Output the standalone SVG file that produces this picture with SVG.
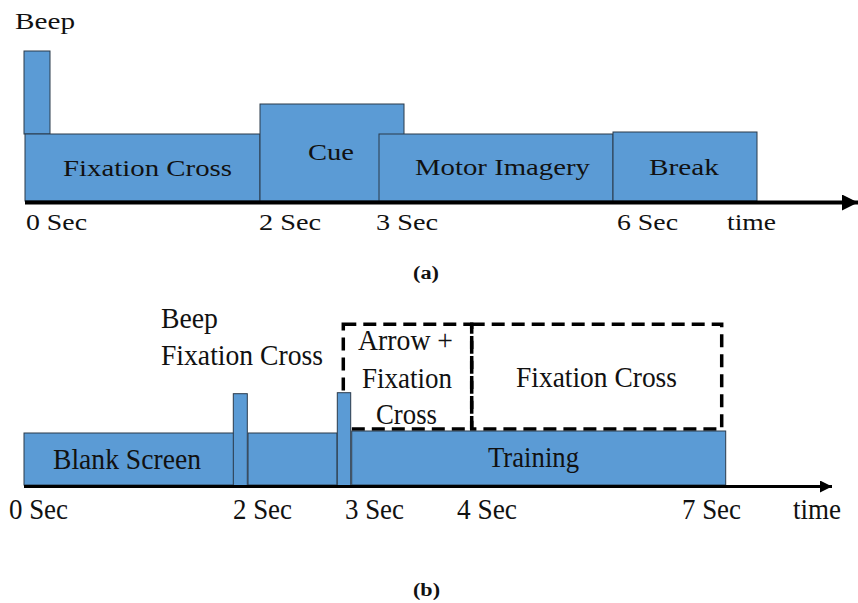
<svg xmlns="http://www.w3.org/2000/svg" width="858" height="603" viewBox="0 0 858 603">
<style>
.bar{fill:#5B9BD5;stroke:#2b3a4a;stroke-width:1}
.t{font-family:"Liberation Serif","Times New Roman",serif;fill:#111}
.a{font-size:22.5px}
.ai{font-size:23.5px}
.b{font-size:29px}
.cap{font-size:18px;font-weight:bold}
.axis{stroke:#000;fill:none}
.dash{fill:none;stroke:#000;stroke-width:3.5;stroke-dasharray:13 7}
</style>
<defs>
<marker id="arr" viewBox="0 0 10 10" refX="10" refY="5" markerWidth="4" markerHeight="4" markerUnits="strokeWidth" orient="auto">
<path d="M0,0 L10,5 L0,10 z" fill="#000"/>
</marker>
</defs>
<rect width="858" height="603" fill="#fff"/>

<!-- Part (a) -->
<g id="a-beep"><rect class="bar" x="24" y="51" width="26" height="83"/><text class="t ai" x="15" y="29" textLength="60" lengthAdjust="spacingAndGlyphs">Beep</text></g>
<g id="a-fixation"><rect class="bar" x="25" y="134" width="235" height="67"/><text class="t ai" x="63" y="176" textLength="169" lengthAdjust="spacingAndGlyphs">Fixation Cross</text></g>
<g id="a-cue"><rect class="bar" x="260" y="104" width="144" height="97"/><text class="t ai" x="308" y="160" textLength="46" lengthAdjust="spacingAndGlyphs">Cue</text></g>
<g id="a-motor"><rect class="bar" x="379" y="134" width="234" height="67"/><text class="t ai" x="415" y="175" textLength="175" lengthAdjust="spacingAndGlyphs">Motor Imagery</text></g>
<g id="a-break"><rect class="bar" x="613" y="132" width="144" height="69"/><text class="t ai" x="649" y="175" textLength="70" lengthAdjust="spacingAndGlyphs">Break</text></g>
<g id="a-connectors"><line class="axis" x1="25" y1="202.5" x2="858" y2="202.5" stroke-width="4" marker-end="url(#arr)"/></g>
<g id="a-labels">
<text class="t a" x="26" y="230" textLength="61" lengthAdjust="spacingAndGlyphs">0 Sec</text>
<text class="t a" x="259" y="230" textLength="62" lengthAdjust="spacingAndGlyphs">2 Sec</text>
<text class="t a" x="376" y="230" textLength="62" lengthAdjust="spacingAndGlyphs">3 Sec</text>
<text class="t a" x="617" y="230" textLength="61" lengthAdjust="spacingAndGlyphs">6 Sec</text>
<text class="t a" x="727" y="230" textLength="49" lengthAdjust="spacingAndGlyphs">time</text>
<text class="t cap" x="413" y="279" textLength="26" lengthAdjust="spacingAndGlyphs">(a)</text>
</g>

<!-- Part (b) -->
<g id="b-dashed">
<rect class="dash" x="343.3" y="324.3" width="128.4" height="104.7"/>
<rect class="dash" x="471.7" y="324.3" width="250" height="104.7"/>
<text class="t b" x="358" y="350" textLength="95" lengthAdjust="spacingAndGlyphs">Arrow +</text>
<text class="t b" x="362" y="388" textLength="90" lengthAdjust="spacingAndGlyphs">Fixation</text>
<text class="t b" x="376" y="424" textLength="61" lengthAdjust="spacingAndGlyphs">Cross</text>
<text class="t b" x="516" y="387" textLength="161" lengthAdjust="spacingAndGlyphs">Fixation Cross</text>
</g>
<g id="b-blank"><rect class="bar" x="24" y="433" width="210" height="52"/><text class="t b" x="53" y="469" textLength="148" lengthAdjust="spacingAndGlyphs">Blank Screen</text></g>
<g id="b-mid"><rect class="bar" x="248" y="433" width="89" height="52"/></g>
<g id="b-beep1"><rect class="bar" x="233.3" y="393.7" width="14" height="93"/></g>
<g id="b-beep2"><rect class="bar" x="337.3" y="392.7" width="13.4" height="94"/></g>
<g id="b-training"><rect class="bar" x="351.7" y="431" width="374" height="54"/><text class="t b" x="488" y="467" textLength="91" lengthAdjust="spacingAndGlyphs">Training</text></g>
<g id="b-beeplabel">
<text class="t b" x="161" y="328" textLength="57" lengthAdjust="spacingAndGlyphs">Beep</text>
<text class="t b" x="161" y="365" textLength="162" lengthAdjust="spacingAndGlyphs">Fixation Cross</text>
</g>
<g id="b-connectors"><line class="axis" x1="24" y1="486.5" x2="832" y2="486.5" stroke-width="3" marker-end="url(#arr)"/></g>
<g id="b-labels">
<text class="t b" x="9" y="519" textLength="59" lengthAdjust="spacingAndGlyphs">0 Sec</text>
<text class="t b" x="233" y="519" textLength="59" lengthAdjust="spacingAndGlyphs">2 Sec</text>
<text class="t b" x="345" y="519" textLength="59" lengthAdjust="spacingAndGlyphs">3 Sec</text>
<text class="t b" x="457" y="519" textLength="60" lengthAdjust="spacingAndGlyphs">4 Sec</text>
<text class="t b" x="682" y="519" textLength="59" lengthAdjust="spacingAndGlyphs">7 Sec</text>
<text class="t b" x="793" y="519" textLength="48" lengthAdjust="spacingAndGlyphs">time</text>
<text class="t cap" x="413" y="596" textLength="27" lengthAdjust="spacingAndGlyphs">(b)</text>
</g>
</svg>
